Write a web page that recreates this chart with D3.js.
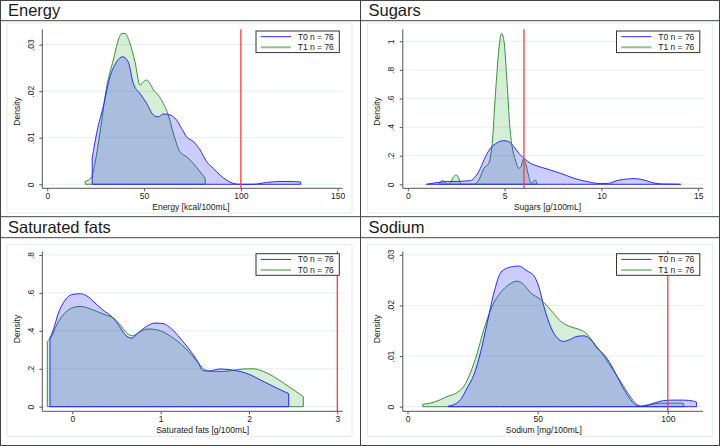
<!DOCTYPE html>
<html>
<head>
<meta charset="utf-8">
<script src="https://cdn.jsdelivr.net/npm/d3@7"></script>
<style>
  body { margin: 0; background: #fff; }
  text { font-family: "Liberation Sans", Arial, sans-serif; fill: #1a1a1a; }
</style>
</head>
<body>
<div id="chart"></div>
<script>
/* DATA: [value, density] */
const energyT0 = [[23.2,0.0056],[25.5,0.011],[28.9,0.0167],[32.4,0.0231],[35.8,0.0263],[38.9,0.0274],[41.8,0.0263],[44.4,0.0217],[47.9,0.0195],[51.3,0.0174],[54.8,0.0149],[57.3,0.0145],[59.9,0.0151],[63.4,0.0149],[66.8,0.0138],[69.4,0.012],[72,0.0102],[75.4,0.0092],[78.9,0.0074],[82.3,0.0049],[85.8,0.0034],[89.2,0.002],[92.6,0.0009],[96.1,0.0002],[99.5,0],[106.4,0],[113.3,0.0004],[120.2,0.0006],[125.4,0.0006],[130.9,0.0005]];
const energyT1 = [[19.6,0.0006],[21.2,0.0009],[22.9,0.0016],[24.6,0.0045],[27.2,0.011],[30.7,0.021],[34.1,0.0267],[36.7,0.031],[38.4,0.0324],[40.1,0.0324],[42.7,0.0303],[45.3,0.0263],[47.9,0.0213],[49.6,0.022],[51.3,0.0224],[53,0.0217],[54.8,0.0203],[57.3,0.0192],[59.9,0.0174],[62.5,0.0149],[65.1,0.011],[68.5,0.007],[72,0.0059],[75.4,0.0045],[78.9,0.0027],[81.6,0.0013]];
const sugarsT0 = [[0.96,0],[1.5,0.012],[2.03,0.019],[2.72,0.021],[3.24,0.026],[3.5,0.054],[3.75,0.112],[4.01,0.193],[4.27,0.252],[4.62,0.291],[4.96,0.305],[5.22,0.298],[5.48,0.263],[5.73,0.217],[5.99,0.182],[6.34,0.147],[6.68,0.128],[7.2,0.107],[7.89,0.077],[8.58,0.042],[9.26,0.019],[9.95,0.005],[10.38,0.007],[10.81,0.026],[11.33,0.037],[11.68,0.04],[12.19,0.03],[12.71,0.009],[13.2,0.002],[14.1,0]];
const sugarsT1 = [[1.62,0],[1.69,0.019],[1.83,0.026],[1.95,0.012],[2.07,0],[2.2,0.012],[2.38,0.054],[2.51,0.065],[2.63,0.042],[2.76,0],[3.41,0],[3.67,0.03],[3.93,0.112],[4.18,0.147],[4.36,0.287],[4.53,0.636],[4.7,0.939],[4.84,1.056],[4.96,1.009],[5.13,0.706],[5.27,0.403],[5.39,0.263],[5.56,0.17],[5.73,0.112],[5.85,0.124],[5.96,0.175],[6.08,0.147],[6.25,0.054],[6.37,0.007],[6.47,0.019],[6.6,0.028],[6.68,0]];
const satT0 = [[-0.253,0.362],[-0.215,0.406],[-0.158,0.494],[-0.083,0.561],[-0.008,0.591],[0.087,0.596],[0.162,0.585],[0.257,0.547],[0.351,0.508],[0.445,0.476],[0.521,0.433],[0.596,0.38],[0.672,0.362],[0.747,0.389],[0.842,0.424],[0.936,0.441],[1.03,0.438],[1.125,0.41],[1.219,0.362],[1.313,0.309],[1.408,0.248],[1.483,0.19],[1.54,0.188],[1.672,0.199],[1.785,0.195],[1.898,0.186],[2.011,0.169],[2.125,0.142],[2.238,0.116],[2.351,0.09],[2.449,0.069]];
const satT1 = [[-0.283,0.345],[-0.234,0.371],[-0.177,0.432],[-0.102,0.485],[-0.008,0.52],[0.087,0.529],[0.181,0.52],[0.275,0.503],[0.37,0.485],[0.464,0.468],[0.54,0.433],[0.615,0.389],[0.683,0.374],[0.766,0.397],[0.86,0.41],[0.955,0.406],[1.049,0.389],[1.143,0.362],[1.238,0.327],[1.332,0.283],[1.426,0.23],[1.502,0.195],[1.596,0.186],[1.709,0.186],[1.823,0.192],[1.936,0.199],[2.049,0.2],[2.162,0.186],[2.275,0.16],[2.389,0.125],[2.502,0.09],[2.615,0.053]];
const sodiumT0 = [[15.6,0.0001],[17.8,0.0004],[20.4,0.0014],[22.9,0.0037],[25.5,0.0063],[28,0.0106],[30.6,0.0165],[33.2,0.0225],[35.7,0.0264],[38.3,0.0274],[40.8,0.0277],[42.6,0.0278],[46,0.0268],[48.5,0.0259],[50.4,0.0238],[52.4,0.0198],[54.9,0.0159],[57.5,0.0136],[60,0.0129],[62.6,0.0133],[65.2,0.0139],[67.7,0.014],[70.3,0.0133],[72.8,0.0116],[76,0.01],[79.2,0.0073],[81.8,0.0047],[84.4,0.0024],[86.9,0.0007],[89.5,0.0001],[92,0.0003],[94.6,0.0007],[98.4,0.0012],[102.3,0.0013],[106.1,0.0013],[109.9,0.0011],[111,0.0009]];
const sodiumT1 = [[5.9,0.0005],[8.8,0.0007],[12.7,0.0014],[15.2,0.002],[18.4,0.0026],[21.6,0.004],[24.2,0.0067],[26.8,0.0106],[29.3,0.0152],[32.5,0.0198],[35.7,0.0225],[38.9,0.0241],[42.1,0.0248],[44.7,0.0241],[47.3,0.0225],[51.1,0.0212],[54.9,0.0192],[58.8,0.0169],[62,0.0159],[65.2,0.0154],[68.4,0.0146],[71.6,0.0126],[75.4,0.01],[79.3,0.007],[83.1,0.004],[86.9,0.0011],[89.5,0.0001],[93.3,0.0004],[97.2,0.0007],[101,0.0007],[104.9,0.0007],[106.1,0.0006]];

/* TICKS AND LABELS */
const energyXTicks = [0, 50, 100, 150];
const energyYTicks = [0, 0.01, 0.02, 0.03];
const energyYLabels = ["0", ".01", ".02", ".03"];
const sugarsXTicks = [0, 5, 10, 15];
const sugarsYTicks = [0, 0.2, 0.4, 0.6, 0.8, 1];
const sugarsYLabels = ["0", ".2", ".4", ".6", ".8", "1"];
const satXTicks = [0, 1, 2, 3];
const satYTicks = [0, 0.2, 0.4, 0.6, 0.8];
const satYLabels = ["0", ".2", ".4", ".6", ".8"];
const sodiumXTicks = [0, 50, 100];
const sodiumYTicks = [0, 0.01, 0.02, 0.03];
const sodiumYLabels = ["0", ".01", ".02", ".03"];

const panelTitles = ["Energy", "Sugars", "Saturated fats", "Sodium"];
const axisTitles = ["Energy [kcal/100mL]", "Sugars [g/100mL]", "Saturated fats [g/100mL]", "Sodium [mg/100mL]"];
const legendLabels = [["T0 n = 76", "T1 n = 76"], ["T0 n = 76", "T1 n = 76"], ["T0 n = 76", "T0 n = 76"], ["T0 n = 76", "T1 n = 76"]];
const limits = [100, 6, 3, 100];

/* LAYOUT */
const width = 720, height = 446;
const colX = [0, 360.5];
const rows = [
  { top: 0, titleBase: 16, band: 20.7, frame: [23, 213], plot: [29.3, 188.3], dens: 111.5 },
  { top: 216.7, titleBase: 233, band: 237.7, frame: [244.7, 436.3], plot: [251.3, 411.3], dens: 329 }
];

const panels = [
  { col: 0, row: 0, t0: energyT0, t1: energyT1, xd: [-2.58, 152.6], yd: [-0.00086, 0.0333], xt: energyXTicks, yt: energyYTicks, yl: energyYLabels, tx: 191, lightLegend: true },
  { col: 1, row: 0, t0: sugarsT0, t1: sugarsT1, xd: [-0.258, 15.258], yd: [-0.028, 1.084], xt: sugarsXTicks, yt: sugarsYTicks, yl: sugarsYLabels, tx: 187, lightLegend: true },
  { col: 0, row: 1, t0: satT0, t1: satT1, xd: [-0.34, 3.061], yd: [-0.0243, 0.8196], xt: satXTicks, yt: satYTicks, yl: satYLabels, tx: 202.7, lightLegend: false },
  { col: 1, row: 1, t0: sodiumT0, t1: sodiumT1, xd: [-1.8, 113.6], yd: [-0.00091, 0.0307], xt: sodiumXTicks, yt: sodiumYTicks, yl: sodiumYLabels, tx: 183.3, lightLegend: false }
];

const svg = d3.select("#chart").append("svg")
  .attr("width", width)
  .attr("height", height);

svg.append("rect").attr("width", width).attr("height", height).attr("fill", "#fff");

panels.forEach((p, i) => {
  const x0 = colX[p.col];
  const r = rows[p.row];
  const g = svg.append("g");

  // light graph-region frame
  g.append("rect")
    .attr("x", x0 + 7).attr("y", r.frame[0])
    .attr("width", 345).attr("height", r.frame[1] - r.frame[0])
    .attr("fill", "none").attr("stroke", "#e4ebee").attr("stroke-width", 1);

  const x = d3.scaleLinear().domain(p.xd).range([x0 + 42.3, x0 + 342.7]);
  const y = d3.scaleLinear().domain(p.yd).range([r.plot[1], r.plot[0]]);

  // gridlines
  g.selectAll("line.grid").data(p.yt).join("line")
    .attr("class", "grid")
    .attr("x1", x0 + 43).attr("x2", x0 + 343)
    .attr("y1", d => y(d)).attr("y2", d => y(d))
    .attr("stroke", "#e6eff1").attr("stroke-width", 1);

  const area = d3.area()
    .x(d => x(d[0]))
    .y0(y(0))
    .y1(d => y(d[1]))
    .curve(d3.curveMonotoneX);

  g.append("path").datum(p.t1).attr("d", area)
    .attr("fill", "rgba(0,140,0,0.16)").attr("stroke", "#3b8f3b").attr("stroke-width", 1);
  g.append("path").datum(p.t0).attr("d", area)
    .attr("fill", "rgba(0,0,255,0.2)").attr("stroke", "#2b2bff").attr("stroke-width", 1);

  // red limit line
  g.append("line")
    .attr("x1", x(limits[i])).attr("x2", x(limits[i]))
    .attr("y1", r.plot[0]).attr("y2", r.plot[1])
    .attr("stroke", "#ff3a3a").attr("stroke-width", 1.3);

  // axes
  const xAxis = d3.axisBottom(x).tickValues(p.xt).tickSize(3).tickPadding(2).tickFormat(d3.format("d"));
  const xa = g.append("g").attr("transform", `translate(0,${r.plot[1]})`).call(xAxis);
  const yAxis = d3.axisLeft(y).tickValues(p.yt).tickSize(3).tickFormat((d, k) => p.yl[k]);
  const ya = g.append("g").attr("transform", `translate(${x0 + 42.3},0)`).call(yAxis);
  [xa, ya].forEach(a => {
    a.select(".domain").attr("stroke", "#555");
    a.selectAll(".tick line").attr("stroke", "#555");
    a.selectAll("text").style("font-family", '"Liberation Sans", Arial, sans-serif').attr("font-size", 8.5).attr("fill", "#1a1a1a");
  });
  xa.select(".domain").attr("d", `M${x0 + 42.3},0H${x0 + 342.7}`);
  ya.select(".domain").attr("d", `M0,${r.plot[0]}V${r.plot[1]}`);
  xa.selectAll(".tick text").attr("y", 10.7).attr("dy", 0);
  ya.selectAll(".tick text")
    .attr("x", null).attr("dy", null)
    .attr("text-anchor", "middle")
    .attr("transform", "translate(-8.8,0) rotate(-90)");

  // axis titles
  g.append("text")
    .attr("x", x0 + p.tx).attr("y", r.plot[1] + 21.8)
    .attr("text-anchor", "middle").attr("font-size", 8.5)
    .text(axisTitles[i]);
  g.append("text")
    .attr("transform", `translate(${x0 + 19.5},${r.dens}) rotate(-90)`)
    .attr("text-anchor", "middle").attr("font-size", 8.5)
    .text("Density");

  // legend
  const ly = r.plot[0] + (p.row === 0 ? 1.7 : 2.4);
  const lg = g.append("g").attr("transform", `translate(${x0 + 256},${ly})`);
  lg.append("rect").attr("width", 83.3).attr("height", 21.6)
    .attr("fill", "#fff").attr("stroke", "#333").attr("stroke-width", 1);
  const legStyles = [
    { c: "#2b2bff", w: 1 },
    p.lightLegend ? { c: "#8cc58c", w: 2 } : { c: "#3b8f3b", w: 1 }
  ];
  legendLabels[i].forEach((lab, k) => {
    const yy = 5.7 + k * 10.6;
    lg.append("line").attr("x1", 4.7).attr("x2", 35).attr("y1", yy).attr("y2", yy)
      .attr("stroke", legStyles[k].c).attr("stroke-width", legStyles[k].w);
    lg.append("text").attr("x", 41.7).attr("y", yy + 3).attr("font-size", 8.5).text(lab);
  });

  // panel title
  g.append("text").attr("x", x0 + 8).attr("y", r.titleBase)
    .attr("font-size", 16.5).attr("fill", "#000").text(panelTitles[i]);
});

// panel borders and dividers
svg.append("line").attr("x1", 0).attr("x2", width).attr("y1", 20.7).attr("y2", 20.7).attr("stroke", "#444");
svg.append("line").attr("x1", 0).attr("x2", width).attr("y1", 216.7).attr("y2", 216.7).attr("stroke", "#444");
svg.append("line").attr("x1", 0).attr("x2", width).attr("y1", 237.7).attr("y2", 237.7).attr("stroke", "#444");
svg.append("line").attr("x1", 360.5).attr("x2", 360.5).attr("y1", 0).attr("y2", height).attr("stroke", "#444");
svg.append("rect").attr("x", 0.5).attr("y", 0.5).attr("width", width - 1).attr("height", height - 1)
  .attr("fill", "none").attr("stroke", "#444");
</script>
</body>
</html>
